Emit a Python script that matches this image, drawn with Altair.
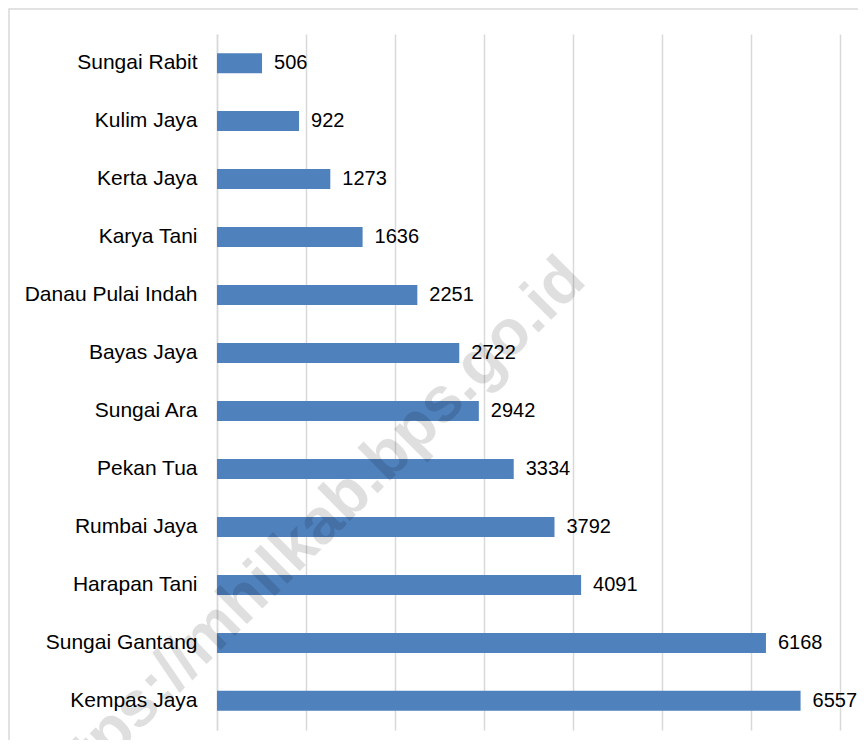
import altair as alt
import pandas as pd

categories = ["Sungai Rabit", "Kulim Jaya", "Kerta Jaya", "Karya Tani",
              "Danau Pulai Indah", "Bayas Jaya", "Sungai Ara", "Pekan Tua",
              "Rumbai Jaya", "Harapan Tani", "Sungai Gantang", "Kempas Jaya"]
values = [506, 922, 1273, 1636, 2251, 2722, 2942, 3334, 3792, 4091, 6168, 6557]
grid_values = [0, 1000, 2000, 3000, 4000, 5000, 6000, 7000]
watermark = "https://mhilkab.bps.go.id"

df = pd.DataFrame({"desa": categories, "nilai": values})
FONT = "Liberation Sans"
GRID = "#d9d9d9"

y_enc = alt.Y("desa:N", sort=categories, title=None,
              scale=alt.Scale(paddingInner=0.655, paddingOuter=0.33),
              axis=alt.Axis(labelFontSize=21, labelFont=FONT, labelColor="#000000",
                            labelPadding=20, ticks=False, domainColor=GRID,
                            domainWidth=1.5, grid=False, labelLimit=400))
x_enc = alt.X("nilai:Q", title=None,
              scale=alt.Scale(domain=[0, 7000], nice=False),
              axis=alt.Axis(values=grid_values, labels=False, ticks=False,
                            domain=False, grid=True, gridColor=GRID, gridWidth=1.5))

base = alt.Chart(df)
bars = base.mark_bar(color="#4F81BD", size=20).encode(x=x_enc, y=y_enc)
labels = base.mark_text(align="left", baseline="middle", dx=12, fontSize=20,
                        font=FONT, color="#000000").encode(
    x=alt.X("nilai:Q"), y=alt.Y("desa:N", sort=categories), text=alt.Text("nilai:Q", format="d"))

one = pd.DataFrame({"a": [0]})
border = alt.Chart(one).mark_rect(fill=None, stroke="#d9d9d9", strokeWidth=1.5).encode(
    x=alt.value(-208), x2=alt.value(800), y=alt.value(-25), y2=alt.value(900))
wm = alt.Chart(one).mark_text(text=watermark, angle=315, fontSize=64, fontWeight="bold",
                              font=FONT, color="#000000", opacity=0.12,
                              align="center", baseline="middle").encode(
    x=alt.value(90), y=alt.value(503))

chart = alt.layer(border, bars, labels, wm).properties(
    width=623, height=696,
    autosize=alt.AutoSizeParams(type="none"),
    padding={"left": 209, "top": 26, "right": 18, "bottom": 10},
).configure_view(stroke=None)

chart.save("out.html", embed_options={"renderer": "svg", "actions": False})
